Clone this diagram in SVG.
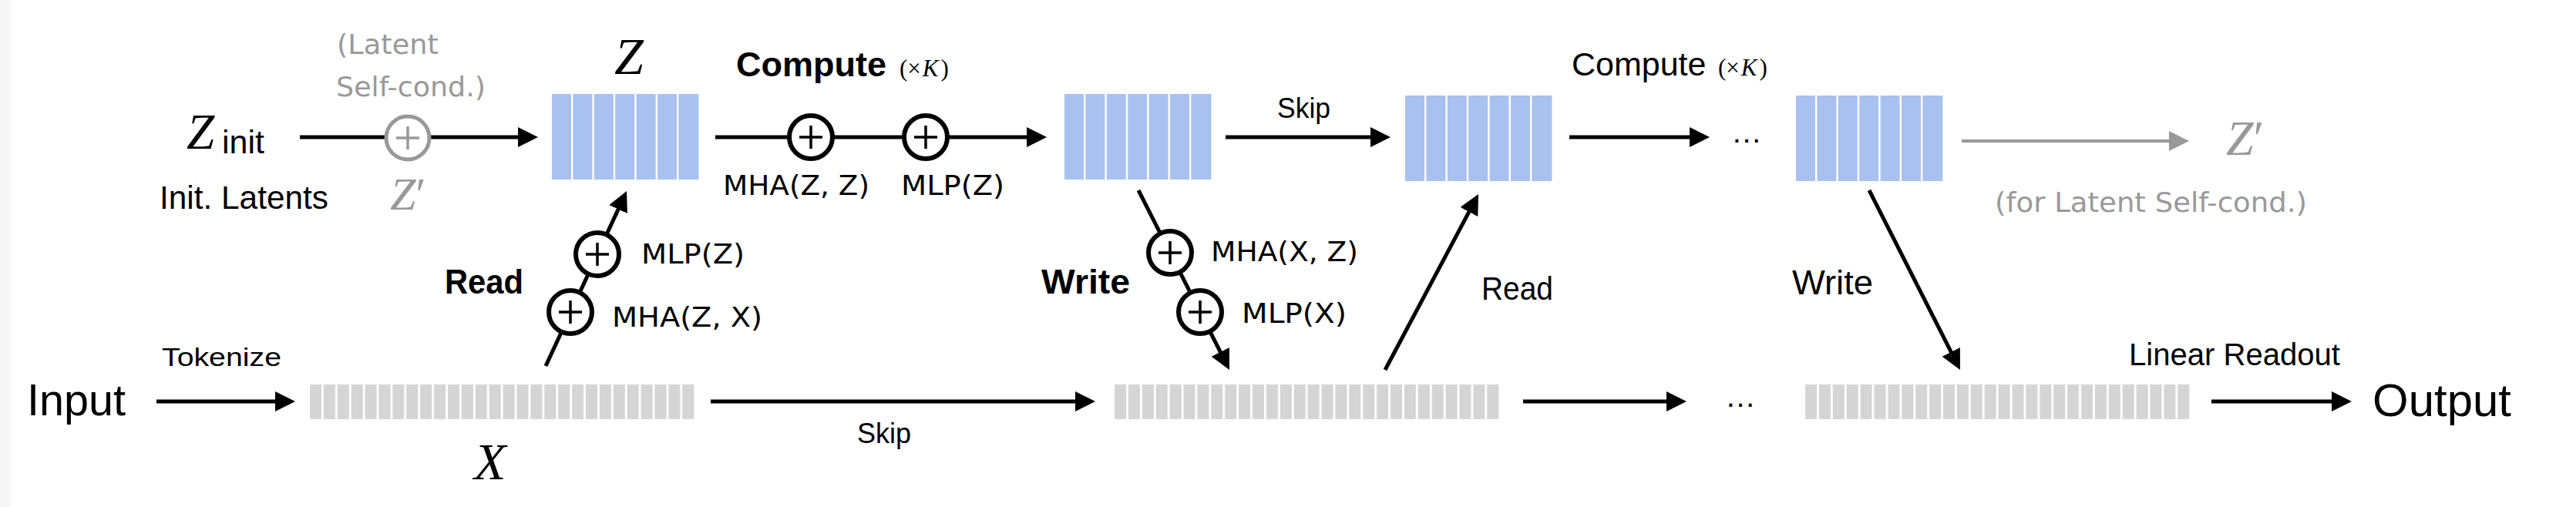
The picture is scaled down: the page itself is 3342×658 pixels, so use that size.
<svg xmlns="http://www.w3.org/2000/svg" width="3342" height="658" viewBox="0 0 3342 658">
<style>
.lbl{font-family:"DejaVu Sans","Liberation Sans",sans-serif;font-size:36px;fill:#000}
.sans{font-family:"Liberation Sans",Arial,sans-serif;fill:#000}
.bold{font-weight:bold}
.math{font-family:"Liberation Serif","Times New Roman",serif;font-style:italic;fill:#000}
.up{font-style:normal;font-weight:normal}
.gray{fill:#999}
.ln{stroke:#000;stroke-width:5;fill:none}
.lng{stroke:#999;stroke-width:4;fill:none}
.circ{fill:#fff;stroke:#000;stroke-width:6}
.circg{fill:#fff;stroke:#999;stroke-width:5}
.plus{stroke:#000;stroke-width:3.5;fill:none}
.plusg{stroke:#999;stroke-width:3.5;fill:none}
.lat{fill:#a9c1ef}
.tok{fill:#d5d5d5}
</style>
<defs>
<marker id="ah" markerUnits="userSpaceOnUse" viewBox="0 0 26 26" markerWidth="26" markerHeight="26" refX="20" refY="13" orient="auto"><path d="M0,0 L26,13 L0,26 Z" fill="#000"/></marker>
<marker id="ahg" markerUnits="userSpaceOnUse" viewBox="0 0 26 26" markerWidth="26" markerHeight="26" refX="20" refY="13" orient="auto"><path d="M0,0 L26,13 L0,26 Z" fill="#999"/></marker>
<g id="latentBlock">
<rect class="lat" x="0" y="0" width="25" height="111"/><rect class="lat" x="27.4" y="0" width="25" height="111"/><rect class="lat" x="54.8" y="0" width="25" height="111"/><rect class="lat" x="82.2" y="0" width="25" height="111"/><rect class="lat" x="109.6" y="0" width="25" height="111"/><rect class="lat" x="137" y="0" width="25" height="111"/><rect class="lat" x="164.4" y="0" width="26" height="111"/>
</g>
<g id="tokenBar">
<rect class="tok" x="0" width="15" height="45"/><rect class="tok" x="17.9" width="15" height="45"/><rect class="tok" x="35.8" width="15" height="45"/><rect class="tok" x="53.7" width="15" height="45"/><rect class="tok" x="71.6" width="15" height="45"/><rect class="tok" x="89.5" width="15" height="45"/><rect class="tok" x="107.4" width="15" height="45"/><rect class="tok" x="125.3" width="15" height="45"/><rect class="tok" x="143.2" width="15" height="45"/><rect class="tok" x="161.1" width="15" height="45"/><rect class="tok" x="179" width="15" height="45"/><rect class="tok" x="196.9" width="15" height="45"/><rect class="tok" x="214.8" width="15" height="45"/><rect class="tok" x="232.7" width="15" height="45"/><rect class="tok" x="250.6" width="15" height="45"/><rect class="tok" x="268.5" width="15" height="45"/><rect class="tok" x="286.4" width="15" height="45"/><rect class="tok" x="304.3" width="15" height="45"/><rect class="tok" x="322.2" width="15" height="45"/><rect class="tok" x="340.1" width="15" height="45"/><rect class="tok" x="358" width="15" height="45"/><rect class="tok" x="375.9" width="15" height="45"/><rect class="tok" x="393.8" width="15" height="45"/><rect class="tok" x="411.7" width="15" height="45"/><rect class="tok" x="429.6" width="15" height="45"/><rect class="tok" x="447.5" width="15" height="45"/><rect class="tok" x="465.4" width="15" height="45"/><rect class="tok" x="483.3" width="15" height="45"/>
</g>
<g id="plusOp"><circle class="circ" r="28"/><path class="plus" d="M-15,0 H15 M0,-15 V15"/></g>
</defs>
<rect x="0" y="0" width="3342" height="658" fill="#fff"/>
<rect x="0" y="0" width="14" height="658" fill="#f7f7f7"/>

<g id="connectors">
<path class="ln" d="M389,178 H692" marker-end="url(#ah)"/>
<path class="ln" d="M928,178 H1352" marker-end="url(#ah)"/>
<path class="ln" d="M1590,178 H1798" marker-end="url(#ah)"/>
<path class="ln" d="M2036,178 H2212" marker-end="url(#ah)"/>
<path class="lng" d="M2545,183 H2834" marker-end="url(#ahg)"/>
<path class="ln" d="M708,475 L810.5,253.4" marker-end="url(#ah)"/>
<path class="ln" d="M1477,247 L1592.3,474.6" marker-end="url(#ah)"/>
<path class="ln" d="M1797,480 L1915.2,257.3" marker-end="url(#ah)"/>
<path class="ln" d="M2425,247 L2540.3,474.6" marker-end="url(#ah)"/>
<path class="ln" d="M203,521 H377" marker-end="url(#ah)"/>
<path class="ln" d="M922,521 H1415" marker-end="url(#ah)"/>
<path class="ln" d="M1976,521 H2182" marker-end="url(#ah)"/>
<path class="ln" d="M2869,521 H3045" marker-end="url(#ah)"/>
</g>

<g id="z-init">
<text x="242" y="193" class="math" font-size="65">Z<tspan class="sans up" font-size="43" x="288" y="199">init</tspan></text>
<text x="207" y="271" class="sans" font-size="42" textLength="219" lengthAdjust="spacingAndGlyphs">Init. Latents</text>
</g>

<g id="self-cond-in">
<text x="437" y="70" class="lbl gray" textLength="132" lengthAdjust="spacingAndGlyphs">(Latent</text>
<text x="436" y="125" class="lbl gray" textLength="194" lengthAdjust="spacingAndGlyphs">Self-cond.)</text>
<circle class="circg" cx="529" cy="179" r="28"/>
<path class="plusg" d="M514,179 H544 M529,164 V194"/>
<text x="506" y="272" class="math gray" font-size="60">Z<tspan class="up">′</tspan></text>
</g>

<g id="latent-z">
<use href="#latentBlock" x="716" y="122"/>
<text x="797" y="96" class="math" font-size="68">Z</text>
</g>

<g id="compute-1">
<text x="955" y="99" class="sans bold" font-size="45">Compute<tspan class="math up" font-size="31" x="1167">(×<tspan font-style="italic" dx="2">K</tspan><tspan dx="3">)</tspan></tspan></text>
<use href="#plusOp" x="1052" y="178"/>
<use href="#plusOp" x="1201" y="178"/>
<text x="938" y="253" class="lbl" textLength="190" lengthAdjust="spacingAndGlyphs">MHA(Z, Z)</text>
<text x="1169" y="253" class="lbl" textLength="134" lengthAdjust="spacingAndGlyphs">MLP(Z)</text>
</g>

<g id="latent-2">
<use href="#latentBlock" x="1381" y="122"/>
</g>
<text id="skip-top" x="1657" y="153" class="sans" font-size="36" textLength="69" lengthAdjust="spacingAndGlyphs">Skip</text>
<g id="latent-3">
<use href="#latentBlock" x="1823" y="124"/>
</g>
<text id="compute-2" x="2039" y="98" class="sans" font-size="43">Compute<tspan class="math up" font-size="31" x="2229">(×<tspan font-style="italic" dx="2">K</tspan><tspan dx="3">)</tspan></tspan></text>
<text id="dots-top" x="2246" y="185" class="sans" font-size="40">…</text>
<g id="latent-4">
<use href="#latentBlock" x="2330" y="124"/>
</g>
<g id="self-cond-out">
<text x="2888" y="201" class="math gray" font-size="64">Z<tspan class="up">′</tspan></text>
<text x="2588" y="275" class="lbl gray" textLength="405" lengthAdjust="spacingAndGlyphs">(for Latent Self-cond.)</text>
</g>

<g id="read-1">
<text x="577" y="381" class="sans bold" font-size="44" textLength="102" lengthAdjust="spacingAndGlyphs">Read</text>
<use href="#plusOp" x="775" y="330"/>
<use href="#plusOp" x="740" y="405"/>
<text x="832" y="342" class="lbl" textLength="134" lengthAdjust="spacingAndGlyphs">MLP(Z)</text>
<text x="794" y="424" class="lbl" textLength="195" lengthAdjust="spacingAndGlyphs">MHA(Z, X)</text>
</g>

<g id="write-1">
<text x="1351" y="381" class="sans bold" font-size="45" textLength="115" lengthAdjust="spacingAndGlyphs">Write</text>
<use href="#plusOp" x="1518" y="328"/>
<use href="#plusOp" x="1557" y="405"/>
<text x="1571" y="339" class="lbl" textLength="191" lengthAdjust="spacingAndGlyphs">MHA(X, Z)</text>
<text x="1611" y="419" class="lbl" textLength="136" lengthAdjust="spacingAndGlyphs">MLP(X)</text>
</g>

<text id="read-2" x="1922" y="389" class="sans" font-size="43" textLength="93" lengthAdjust="spacingAndGlyphs">Read</text>
<text id="write-2" x="2325" y="382" class="sans" font-size="45" textLength="105" lengthAdjust="spacingAndGlyphs">Write</text>

<g id="input">
<text x="35" y="539" class="sans" font-size="58" textLength="128" lengthAdjust="spacingAndGlyphs">Input</text>
<text x="210" y="475" class="sans" font-size="34" textLength="155" lengthAdjust="spacingAndGlyphs">Tokenize</text>
</g>
<g id="tokens-x">
<use href="#tokenBar" x="402" y="499"/>
<text x="615" y="622" class="math" font-size="68">X</text>
</g>
<text id="skip-bottom" x="1112" y="575" class="sans" font-size="36" textLength="70" lengthAdjust="spacingAndGlyphs">Skip</text>
<g id="tokens-2">
<use href="#tokenBar" x="1446" y="499"/>
</g>
<text id="dots-bottom" x="2238" y="528" class="sans" font-size="40">…</text>
<g id="tokens-3">
<use href="#tokenBar" x="2342" y="499"/>
</g>
<g id="output">
<text x="2762" y="474" class="sans" font-size="40" textLength="274" lengthAdjust="spacingAndGlyphs">Linear Readout</text>
<text x="3078" y="540" class="sans" font-size="60" textLength="180" lengthAdjust="spacingAndGlyphs">Output</text>
</g>
</svg>
